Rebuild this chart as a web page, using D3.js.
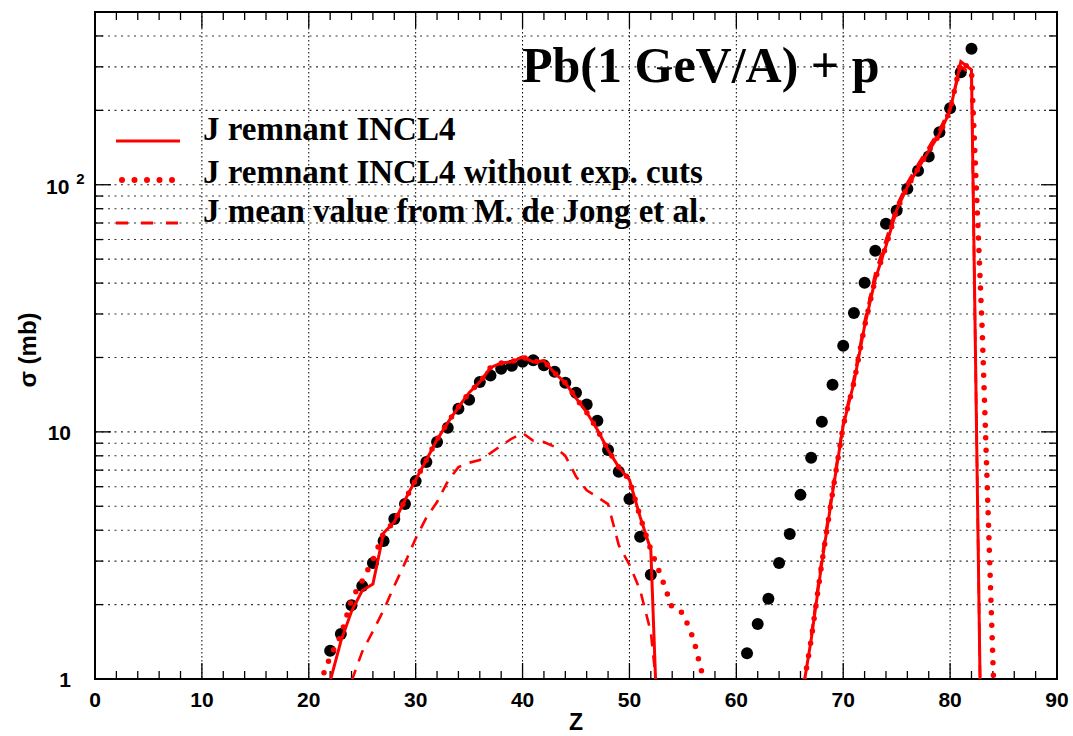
<!DOCTYPE html>
<html>
<head>
<meta charset="utf-8">
<script src="https://cdn.jsdelivr.net/npm/d3@7"></script>
<style>
  html, body { margin: 0; padding: 0; background: #fff; }
  svg { display: block; }
</style>
</head>
<body>
<svg id="chart" width="1073" height="736"></svg>
<script>
// ---------------- data ----------------
const expZ = [22,23,24,25,26,27,28,29,30,31,32,33,34,35,36,37,38,39,40,41,42,43,44,45,46,47,48,49,50,51,52,
              61,62,63,64,65,66,67,68,69,70,71,72,73,74,75,76,77,78,79,80,81,82];
const expSigma = [1.30,1.52,1.99,2.38,2.95,3.62,4.44,5.11,6.32,7.56,9.1,10.4,12.4,13.5,15.9,16.9,18.0,18.5,19.2,19.5,18.6,17.5,15.8,14.4,12.9,11.1,8.45,6.89,5.35,3.76,2.64,
                  1.27,1.67,2.11,2.95,3.86,5.56,7.85,11.0,15.5,22.3,30.3,40.1,54.1,69.5,78.7,96.3,114,130,163,204,285,355];

// J remnant INCL4 (solid)
const incl4LeftZ = [22,23,24,25,26,27,28,29,30,31,32,33,34,35,36,37,38,39,40,41,42,43,44,45,46,47,48,49,50,51,52,53];
const incl4LeftSigma = [0.98,1.42,1.88,2.28,2.42,3.9,4.32,5.3,6.4,7.7,9.3,10.9,12.6,14.4,15.9,18.2,19.0,19.2,20.1,19.2,19.4,17.3,15.8,13.7,12.0,10.2,8.45,7.2,6.4,4.53,3.33,0.22];
const incl4RightZ = [66,67,68,69,70,71,72,73,74,75,76,77,78,79,80,81,82,83];
const incl4RightSigma = [0.785,1.44,2.95,5.66,10.6,15.8,26.8,41.5,56.5,79,98,116,137,160,200,315,292,0.24];

// J remnant INCL4 without exp. cuts (dotted)
const noCutLeftZ = [21,22,23,24,25,26,27,28,29,30,31,32,33,34,35,36,37,38,39,40,41,42,43,44,45,46,47,48,49,50,51,52,53,54,55,56,57];
const noCutLeftSigma = [0.95,1.23,1.5,2.1,2.5,3.03,3.9,4.32,5.3,6.4,7.7,9.3,10.9,12.6,14.4,15.9,18.2,19.0,19.2,20.1,19.2,19.4,17.3,15.8,13.7,12.0,10.2,8.45,7.2,6.4,4.53,3.33,2.58,1.94,1.85,1.45,0.97];
const noCutRightZ = [66,67,68,69,70,71,72,73,74,75,76,77,78,79,80,81,82,83,84,85];
const noCutRightSigma = [0.785,1.44,2.95,5.66,10.6,15.8,26.8,41.5,56.5,79,98,116,137,160,200,315,292,26,1.2,0.05];

// J mean value from M. de Jong et al. (dashed)
const deJongLeftZ = [24,25,26,27,28,29,30,31,32,33,34,35,36,37,38,39,40,41,42,43,44,45,46,47,48,49,50,51,52,53];
const deJongLeftSigma = [0.98,1.29,1.56,1.9,2.38,2.95,3.7,4.5,5.2,6.3,7.2,7.5,7.7,8.2,8.8,9.4,9.9,9.2,9.1,8.7,8.0,6.6,5.8,5.45,5.1,3.48,2.9,2.29,1.55,0.6];
const deJongRightZ = [67,68,69,70,71,72,73,74,75,76,77,78,79,80,81,82,83];
const deJongRightSigma = [1.5,3.1,5.9,10.8,16.5,28,44,60,82,102,121,142,167,205,300,280,0.25];

const xMajorTicks = [0,10,20,30,40,50,60,70,80,90];
const xMinorTicks = [2,4,6,8,12,14,16,18,22,24,26,28,32,34,36,38,42,44,46,48,52,54,56,58,62,64,66,68,72,74,76,78,82,84,86,88];
const yMajorTicks = [1,10,100];
const yMinorTicks = [2,3,4,5,6,7,8,9,20,30,40,50,60,70,80,90,200,300,400];

const titleText = "Pb(1 GeV/A) + p";
const legendLabels = ["J remnant INCL4", "J remnant INCL4 without exp. cuts", "J mean value from M. de Jong et al."];

// ---------------- layout ----------------
const L = 95, R = 1057, T = 12, B = 679;
const svg = d3.select("#chart");
const x = d3.scaleLinear().domain([0, 90]).range([L, R]);
const y = d3.scaleLog().domain([1, 500]).range([B, T]);
const RED = "#ff0000";

svg.append("defs").append("clipPath").attr("id", "clip")
  .append("rect").attr("x", L).attr("y", T).attr("width", R - L).attr("height", B - T);

// grid
const grid = svg.append("g");
grid.selectAll("line.hg").data(yMajorTicks.concat(yMinorTicks).filter(v => v > 1)).join("line")
  .attr("x1", L).attr("x2", R).attr("y1", d => y(d)).attr("y2", d => y(d))
  .attr("stroke", "#333").attr("stroke-width", 1.1).attr("stroke-dasharray", "2,4.5");
grid.selectAll("line.vg").data(xMajorTicks.filter(v => v > 0 && v < 90)).join("line")
  .attr("x1", d => x(d)).attr("x2", d => x(d)).attr("y1", T).attr("y2", B)
  .attr("stroke", "#000").attr("stroke-width", 1).attr("stroke-dasharray", "1.5,2.5");

// ticks
const ticks = svg.append("g").attr("stroke", "#000").attr("stroke-width", 1.3);
xMajorTicks.forEach(v => {
  ticks.append("line").attr("x1", x(v)).attr("x2", x(v)).attr("y1", B).attr("y2", B - 16);
  ticks.append("line").attr("x1", x(v)).attr("x2", x(v)).attr("y1", T).attr("y2", T + 16);
});
xMinorTicks.forEach(v => {
  ticks.append("line").attr("x1", x(v)).attr("x2", x(v)).attr("y1", B).attr("y2", B - 8);
  ticks.append("line").attr("x1", x(v)).attr("x2", x(v)).attr("y1", T).attr("y2", T + 8);
});
yMajorTicks.forEach(v => {
  ticks.append("line").attr("x1", L).attr("x2", L + 16).attr("y1", y(v)).attr("y2", y(v));
  ticks.append("line").attr("x1", R).attr("x2", R - 16).attr("y1", y(v)).attr("y2", y(v));
});
yMinorTicks.forEach(v => {
  ticks.append("line").attr("x1", L).attr("x2", L + 8).attr("y1", y(v)).attr("y2", y(v));
  ticks.append("line").attr("x1", R).attr("x2", R - 8).attr("y1", y(v)).attr("y2", y(v));
});

// frame
svg.append("rect").attr("x", L).attr("y", T).attr("width", R - L).attr("height", B - T)
  .attr("fill", "none").attr("stroke", "#000").attr("stroke-width", 2);

// tick labels
const sans = "'Liberation Sans', Arial, Helvetica, sans-serif";
svg.append("g").selectAll("text").data(xMajorTicks).join("text")
  .attr("x", d => x(d)).attr("y", 707).attr("text-anchor", "middle")
  .attr("font-family", sans).attr("font-weight", "bold").attr("font-size", 21)
  .text(d => d);

const yl = svg.append("g").attr("font-family", sans).attr("font-weight", "bold").attr("fill", "#000");
yMajorTicks.forEach(v => {
  if (v === 100) {
    const t = yl.append("text").attr("x", 46).attr("y", y(v) + 9).attr("font-size", 21);
    t.append("tspan").text("10");
    t.append("tspan").attr("dx", 7).attr("dy", -10).attr("font-size", 15).text("2");
  } else {
    yl.append("text").attr("x", 71).attr("y", y(v) + 8).attr("text-anchor", "end")
      .attr("font-size", 21).text(String(v));
  }
});

// axis titles
svg.append("text").attr("x", x(45)).attr("y", 730).attr("text-anchor", "middle")
  .attr("font-family", sans).attr("font-weight", "bold").attr("font-size", 23).text("Z");
svg.append("text").attr("transform", "translate(36,350) rotate(-90)").attr("text-anchor", "middle")
  .attr("font-family", sans).attr("font-weight", "bold").attr("font-size", 24)
  .text("σ (mb)");

// experimental points
svg.append("g").selectAll("circle").data(expZ.map((z, i) => [z, expSigma[i]])).join("circle")
  .attr("cx", d => x(d[0])).attr("cy", d => y(d[1])).attr("r", 6).attr("fill", "#000");

// lines
const line = d3.line().x(d => x(d[0])).y(d => y(d[1]));
const zip = (a, b) => a.map((z, i) => [z, b[i]]);
const lines = svg.append("g").attr("clip-path", "url(#clip)").attr("fill", "none");

function drawSeries(zs, vs, style) {
  const p = lines.append("path").attr("d", line(zip(zs, vs))).attr("stroke", RED);
  if (style === "dashed") p.attr("stroke-width", 2.6).attr("stroke-dasharray", "12,9");
  if (style === "solid") p.attr("stroke-width", 3);
  if (style === "dotted") p.attr("stroke-width", 5.5).attr("stroke-linecap", "round").attr("stroke-dasharray", "0,12.5");
}
drawSeries(deJongLeftZ, deJongLeftSigma, "dashed");
drawSeries(deJongRightZ, deJongRightSigma, "dashed");
drawSeries(incl4LeftZ, incl4LeftSigma, "solid");
drawSeries(incl4RightZ, incl4RightSigma, "solid");
drawSeries(noCutLeftZ, noCutLeftSigma, "dotted");
drawSeries(noCutRightZ, noCutRightSigma, "dotted");

// title
svg.append("text").attr("x", 522).attr("y", 82)
  .attr("font-family", "'Liberation Serif', 'Times New Roman', serif").attr("font-weight", "bold")
  .attr("font-size", 50).text(titleText);

// legend
const lg = svg.append("g");
const legendY = [141, 180, 223];
const textY = [140, 183, 222];
lg.append("line").attr("x1", 116).attr("x2", 180).attr("y1", legendY[0]).attr("y2", legendY[0])
  .attr("stroke", RED).attr("stroke-width", 3);
lg.append("line").attr("x1", 122).attr("x2", 172.5).attr("y1", legendY[1]).attr("y2", legendY[1])
  .attr("stroke", RED).attr("stroke-width", 6).attr("stroke-linecap", "round").attr("stroke-dasharray", "0,12.5");
lg.append("line").attr("x1", 116).attr("x2", 179).attr("y1", legendY[2]).attr("y2", legendY[2])
  .attr("stroke", RED).attr("stroke-width", 3).attr("stroke-dasharray", "12,13");
legendLabels.forEach((s, i) => {
  lg.append("text").attr("x", 203).attr("y", textY[i])
    .attr("font-family", "'Liberation Serif', 'Times New Roman', serif").attr("font-weight", "bold")
    .attr("font-size", 33).text(s);
});
</script>
</body>
</html>
